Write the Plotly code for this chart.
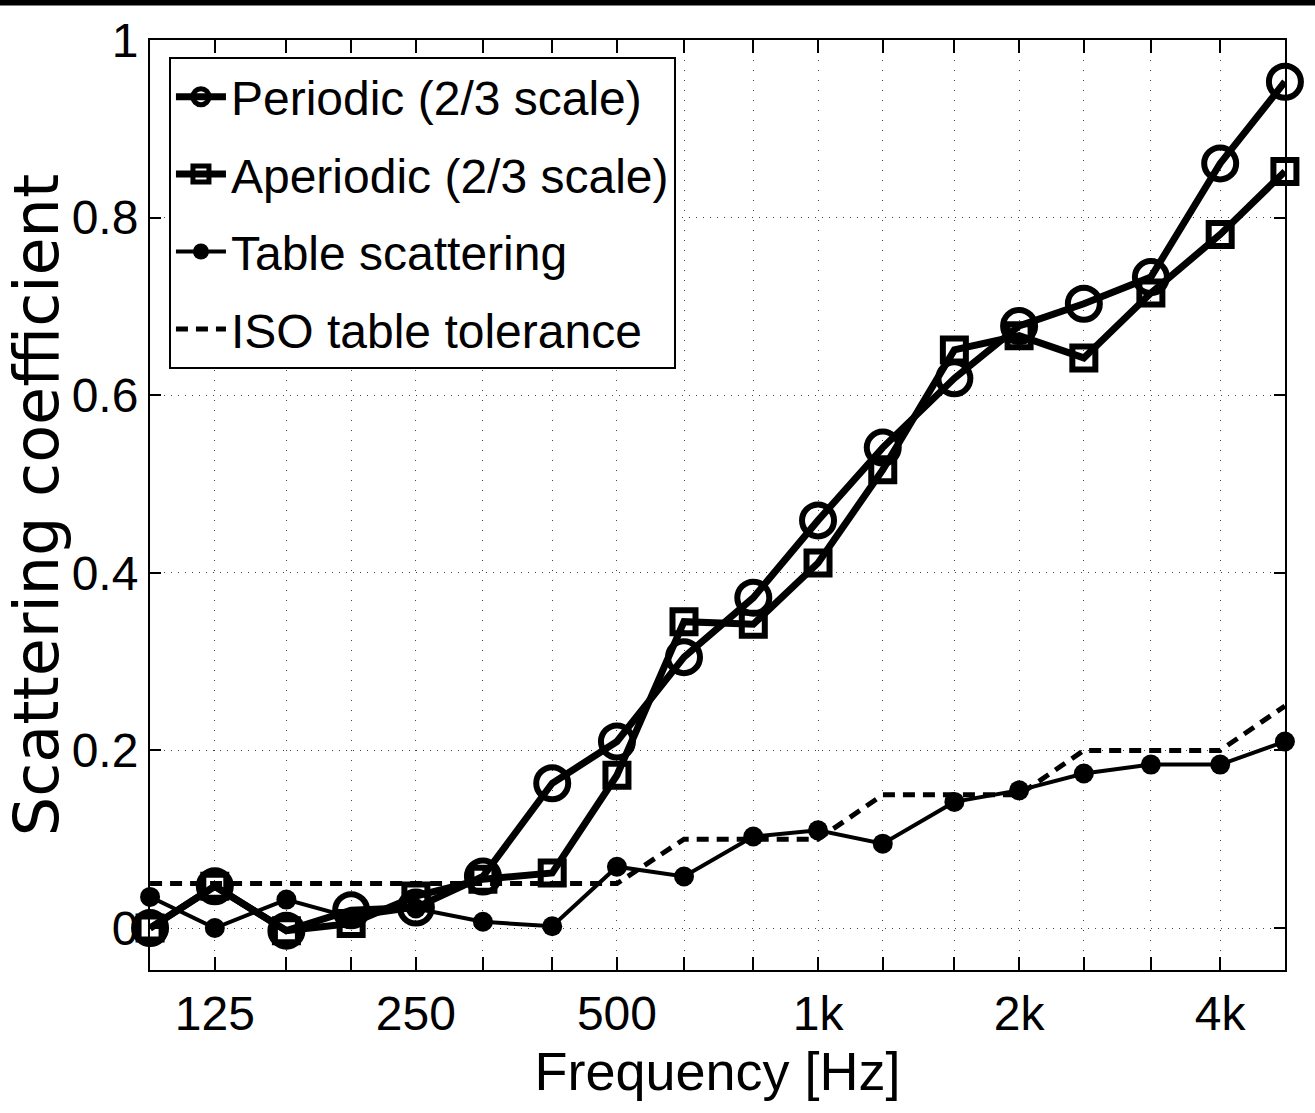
import plotly.graph_objects as go

# Third-octave band centre frequencies [Hz]
freqs = [100, 125, 160, 200, 250, 315, 400, 500, 630, 800,
         1000, 1250, 1600, 2000, 2500, 3150, 4000, 5000]

periodic = [0.0, 0.047, -0.003, 0.02, 0.023, 0.058, 0.163, 0.21, 0.305, 0.372,
            0.459, 0.541, 0.619, 0.678, 0.703, 0.733, 0.861, 0.953]

aperiodic = [0.0, 0.047, -0.003, 0.005, 0.036, 0.055, 0.062, 0.172, 0.345, 0.342,
             0.411, 0.516, 0.651, 0.667, 0.642, 0.715, 0.781, 0.852]

table_scat = [0.035, 0.0, 0.032, 0.012, 0.022, 0.007, 0.002, 0.069, 0.058, 0.103,
              0.11, 0.095, 0.142, 0.155, 0.174, 0.184, 0.184, 0.21]

iso_tol = [0.05, 0.05, 0.05, 0.05, 0.05, 0.05, 0.05, 0.05, 0.1, 0.1,
           0.1, 0.15, 0.15, 0.15, 0.2, 0.2, 0.2, 0.25]

tick_labels = {125: "125", 250: "250", 500: "500", 1000: "1k", 2000: "2k", 4000: "4k"}
y_ticks = [0, 0.2, 0.4, 0.6, 0.8, 1.0]
y_tick_text = ["0", "0.2", "0.4", "0.6", "0.8", "1"]

FONT = "Liberation Sans, Arial, Helvetica, sans-serif"

fig = go.Figure()
fig.add_trace(go.Scatter(
    x=freqs, y=periodic, name="Periodic (2/3 scale)", mode="lines+markers", legendgroup="a",
    line=dict(color="black", width=7),
    marker=dict(symbol="circle-open", size=32, color="black", line=dict(width=6, color="black")),
    cliponaxis=False))
fig.add_trace(go.Scatter(
    x=freqs, y=aperiodic, name="Aperiodic (2/3 scale)", mode="lines+markers", legendgroup="b",
    line=dict(color="black", width=7),
    marker=dict(symbol="square-open", size=23, color="black", line=dict(width=6, color="black")),
    cliponaxis=False))
fig.add_trace(go.Scatter(
    x=freqs, y=table_scat, name="Table scattering", mode="lines+markers", legendgroup="c",
    line=dict(color="black", width=4),
    marker=dict(symbol="circle", size=20, color="black"),
    cliponaxis=False))
fig.add_trace(go.Scatter(
    x=freqs, y=iso_tol, name="ISO table tolerance", mode="lines", legendgroup="d",
    line=dict(color="black", width=5, dash="12px,8px"),
    cliponaxis=False))

fig.update_xaxes(
    type="log", range=[1.9999, 3.6991],
    tickvals=freqs, ticktext=[tick_labels.get(f, "") for f in freqs],
    ticks="inside", ticklen=13, tickwidth=1.5, tickcolor="black",
    showline=True, linecolor="black", linewidth=2, mirror="ticks",
    showgrid=True, gridcolor="#444444", gridwidth=1, griddash="1px,9px",
    zeroline=False,
    tickfont=dict(family=FONT, size=48, color="black"),
    title=dict(text="Frequency [Hz]", font=dict(family=FONT, size=54, color="black"), standoff=14),
)
fig.update_yaxes(
    range=[-0.0473, 1.0],
    tickvals=y_ticks, ticktext=y_tick_text,
    ticks="inside", ticklen=11, tickwidth=1.5, tickcolor="black",
    showline=True, linecolor="black", linewidth=2, mirror="ticks",
    showgrid=True, gridcolor="#444444", gridwidth=1, griddash="1px,6px",
    zeroline=False,
    tickfont=dict(family=FONT, size=48, color="black"),
    title=dict(text="Scattering coefficient", font=dict(family="DejaVu Sans, sans-serif", size=62, color="black"), standoff=4),
)

fig.add_shape(type="rect", xref="paper", yref="paper", x0=-0.2, x1=1.1, y0=1.037, y1=1.1,
              fillcolor="black", line=dict(width=0), layer="above")

fig.update_layout(
    width=1315, height=1113,
    margin=dict(l=150, r=30, t=40, b=143, autoexpand=False),
    paper_bgcolor="white", plot_bgcolor="white",
    font=dict(family=FONT, color="black"),
    showlegend=True,
    legend=dict(
        x=0.0167, y=0.9817, xanchor="left", yanchor="top",
        bgcolor="white", bordercolor="black", borderwidth=2,
        font=dict(family=FONT, size=48, color="black"),
        itemwidth=50, tracegroupgap=12,
    ),
)

fig.write_html("out.html")
